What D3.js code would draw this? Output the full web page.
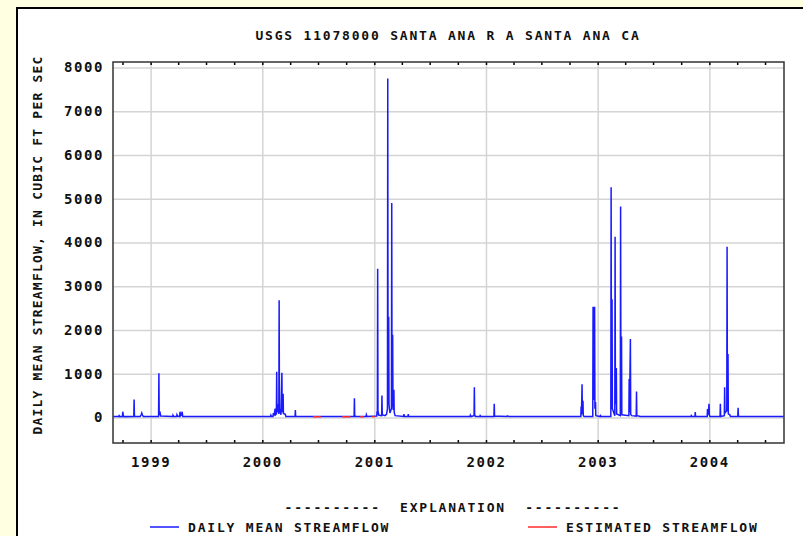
<!DOCTYPE html>
<html>
<head>
<meta charset="utf-8">
<script src="https://cdn.jsdelivr.net/npm/d3@7"></script>
<style>
  html, body { margin: 0; padding: 0; background: #ffffe1; }
  svg { display: block; }
  text { font-family: "DejaVu Sans Mono", monospace; fill: #111; }
</style>
</head>
<body>
<svg class="chart"></svg>
<script>
const TITLE = "USGS 11078000 SANTA ANA R A SANTA ANA CA";
const Y_LABEL = "DAILY MEAN STREAMFLOW, IN CUBIC FT PER SEC";
const Y_TICKS = [0, 1000, 2000, 3000, 4000, 5000, 6000, 7000, 8000];
const YEAR_LABELS = ["1999", "2000", "2001", "2002", "2003", "2004"];
const LEGEND_HEAD = "----------  EXPLANATION  ----------";
const LEGEND_ITEMS = ["DAILY MEAN STREAMFLOW", "ESTIMATED STREAMFLOW"];

// daily mean streamflow, cfs
const DAILY_FLOW = [
  ["1998-09-01", 20], ["1998-09-18", 20], ["1998-09-20", 40], ["1998-09-22", 18],
  ["1998-10-01", 20], ["1998-10-02", 130], ["1998-10-04", 30], ["1998-10-06", 18],
  ["1998-11-07", 20], ["1998-11-08", 410], ["1998-11-09", 40], ["1998-11-11", 20],
  ["1998-11-28", 20], ["1998-12-01", 60], ["1998-12-03", 100], ["1998-12-05", 60], ["1998-12-08", 20],
  ["1999-01-27", 20], ["1999-01-28", 1010], ["1999-01-29", 60], ["1999-02-01", 100], ["1999-02-03", 30],
  ["1999-03-14", 20], ["1999-03-15", 50], ["1999-03-17", 20],
  ["1999-03-27", 20], ["1999-03-28", 60], ["1999-03-30", 30],
  ["1999-04-06", 20], ["1999-04-07", 130], ["1999-04-09", 40], ["1999-04-12", 60], ["1999-04-14", 130], ["1999-04-16", 20],
  ["2000-01-28", 20], ["2000-01-29", 50], ["2000-01-31", 20],
  ["2000-02-05", 20], ["2000-02-06", 100], ["2000-02-08", 40], ["2000-02-12", 200], ["2000-02-13", 60],
  ["2000-02-16", 80], ["2000-02-17", 1045], ["2000-02-18", 120], ["2000-02-21", 300], ["2000-02-22", 150],
  ["2000-02-24", 80], ["2000-02-25", 2680], ["2000-02-26", 200], ["2000-03-02", 60],
  ["2000-03-05", 1020], ["2000-03-06", 150], ["2000-03-08", 120], ["2000-03-09", 540], ["2000-03-10", 90],
  ["2000-03-16", 70], ["2000-03-18", 20],
  ["2000-04-17", 20], ["2000-04-18", 170], ["2000-04-19", 20],
  ["2000-10-27", 20], ["2000-10-28", 440], ["2000-10-29", 40], ["2000-11-01", 20],
  ["2000-12-05", 20], ["2000-12-06", 60], ["2000-12-08", 20],
  ["2001-01-09", 30], ["2001-01-10", 140], ["2001-01-11", 60], ["2001-01-12", 3400], ["2001-01-13", 150], ["2001-01-16", 50],
  ["2001-01-25", 40], ["2001-01-26", 500], ["2001-01-27", 60],
  ["2001-02-05", 40], ["2001-02-10", 70], ["2001-02-13", 200], ["2001-02-14", 7750], ["2001-02-15", 400],
  ["2001-02-17", 2300], ["2001-02-18", 300], ["2001-02-21", 100],
  ["2001-02-26", 200], ["2001-02-27", 4900], ["2001-02-28", 300],
  ["2001-03-02", 1890], ["2001-03-03", 250], ["2001-03-04", 170], ["2001-03-06", 630], ["2001-03-07", 120], ["2001-03-10", 40],
  ["2001-04-07", 20], ["2001-04-08", 75], ["2001-04-09", 20],
  ["2001-04-21", 20], ["2001-04-22", 75], ["2001-04-23", 20],
  ["2001-11-10", 20], ["2001-11-11", 50], ["2001-11-13", 20],
  ["2001-11-23", 40], ["2001-11-24", 690], ["2001-11-25", 60], ["2001-11-28", 20],
  ["2001-12-12", 20], ["2001-12-13", 40], ["2001-12-15", 20],
  ["2002-01-27", 20], ["2002-01-28", 310], ["2002-01-29", 30],
  ["2002-03-10", 20], ["2002-03-11", 30], ["2002-03-14", 30], ["2002-03-16", 20],
  ["2002-11-07", 20], ["2002-11-08", 250], ["2002-11-09", 60], ["2002-11-11", 760], ["2002-11-12", 80],
  ["2002-11-14", 380], ["2002-11-15", 40], ["2002-11-18", 20],
  ["2002-12-16", 20], ["2002-12-17", 2530], ["2002-12-18", 400], ["2002-12-19", 2500], ["2002-12-20", 600],
  ["2002-12-22", 2530], ["2002-12-23", 200], ["2002-12-25", 350], ["2002-12-26", 40],
  ["2003-01-09", 20], ["2003-01-10", 40], ["2003-01-12", 20],
  ["2003-02-13", 20], ["2003-02-14", 5260], ["2003-02-15", 300], ["2003-02-17", 2700], ["2003-02-18", 200],
  ["2003-02-26", 40], ["2003-02-27", 4130], ["2003-02-28", 300], ["2003-03-03", 1130], ["2003-03-04", 80],
  ["2003-03-16", 40], ["2003-03-17", 4820], ["2003-03-18", 300], ["2003-03-20", 1850], ["2003-03-21", 60],
  ["2003-04-13", 40], ["2003-04-14", 880], ["2003-04-15", 120], ["2003-04-18", 1790], ["2003-04-19", 70], ["2003-04-22", 40],
  ["2003-05-07", 30], ["2003-05-08", 590], ["2003-05-09", 40], ["2003-05-15", 30], ["2003-05-20", 20],
  ["2003-11-02", 20], ["2003-11-03", 40], ["2003-11-05", 20],
  ["2003-11-15", 20], ["2003-11-16", 120], ["2003-11-17", 20],
  ["2003-12-25", 20], ["2003-12-26", 190], ["2003-12-28", 60], ["2003-12-31", 310], ["2004-01-01", 50], ["2004-01-03", 20],
  ["2004-02-05", 20], ["2004-02-06", 310], ["2004-02-07", 20],
  ["2004-02-19", 40], ["2004-02-20", 690], ["2004-02-21", 100], ["2004-02-27", 150], ["2004-02-28", 3900], ["2004-02-29", 300],
  ["2004-03-02", 1450], ["2004-03-03", 80], ["2004-03-08", 60], ["2004-03-10", 20],
  ["2004-04-03", 20], ["2004-04-04", 220], ["2004-04-05", 20],
  ["2004-08-31", 20]
];

// estimated periods: start, end, cfs
const EST_FLOW = [
  ["2000-06-15", "2000-07-10", 15],
  ["2000-09-18", "2000-10-15", 15],
  ["2000-11-16", "2000-11-27", 15],
  ["2000-12-24", "2001-01-02", 15]
];

const parseDay = d3.timeParse("%Y-%m-%d");

const WIDTH = 803, HEIGHT = 536;
const PLOT = { left: 113, right: 784, top: 62, bottom: 443 };

const svg = d3.select(".chart").attr("width", WIDTH).attr("height", HEIGHT);

// white panel
svg.append("rect").attr("x", 17).attr("y", 8).attr("width", 800).attr("height", 540)
  .attr("fill", "#fff").attr("stroke", "#000").attr("stroke-width", 2);

const X_fxn = d3.scaleUtc()
  .domain([Date.UTC(1998, 7, 31), Date.UTC(2004, 8, 1)])
  .range([PLOT.left, PLOT.right]);
const Y_fxn = d3.scaleLinear().domain([-585, 8125]).range([PLOT.bottom, PLOT.top]);

const toUtc = s => { const d = parseDay(s); return new Date(Date.UTC(d.getFullYear(), d.getMonth(), d.getDate())); };

// grid
svg.append("g").attr("class", "grid-y")
  .attr("transform", `translate(${PLOT.left},0)`)
  .call(d3.axisLeft(Y_fxn).tickValues(Y_TICKS).tickSize(-(PLOT.right - PLOT.left)).tickFormat(""))
  .call(g => g.select(".domain").remove())
  .call(g => g.selectAll("line").attr("stroke", "#d4d4d4").attr("stroke-width", 1.5));

const yearDates = YEAR_LABELS.map(y => new Date(Date.UTC(+y, 0, 1)));
svg.append("g").attr("class", "grid-x")
  .attr("transform", `translate(0,${PLOT.bottom})`)
  .call(d3.axisBottom(X_fxn).tickValues(yearDates).tickSize(-(PLOT.bottom - PLOT.top)).tickFormat(""))
  .call(g => g.select(".domain").remove())
  .call(g => g.selectAll("line").attr("stroke", "#d4d4d4").attr("stroke-width", 1.5));

// quarter ticks, inside, top and bottom
const quarters = d3.utcMonth.every(3).range(X_fxn.domain()[0], X_fxn.domain()[1]);
svg.append("g").attr("transform", `translate(0,${PLOT.bottom})`)
  .call(d3.axisBottom(X_fxn).tickValues(quarters).tickSize(-3).tickFormat(""))
  .call(g => g.select(".domain").remove())
  .call(g => g.selectAll("line").attr("stroke", "#000").attr("stroke-width", 1.5));
svg.append("g").attr("transform", `translate(0,${PLOT.top})`)
  .call(d3.axisTop(X_fxn).tickValues(quarters).tickSize(-3).tickFormat(""))
  .call(g => g.select(".domain").remove())
  .call(g => g.selectAll("line").attr("stroke", "#000").attr("stroke-width", 1.5));

// data
const flowLine = d3.line()
  .x(d => X_fxn(toUtc(d[0])))
  .y(d => Y_fxn(d[1]));

svg.append("path").datum(DAILY_FLOW)
  .attr("d", flowLine)
  .attr("fill", "none").attr("stroke", "#1a1aff").attr("stroke-width", 1.5);

EST_FLOW.forEach(e => {
  svg.append("path").datum([[e[0], e[2]], [e[1], e[2]]])
    .attr("d", flowLine)
    .attr("fill", "none").attr("stroke", "#ff2a2a").attr("stroke-width", 1.5);
});

// plot frame
svg.append("rect")
  .attr("x", PLOT.left).attr("y", PLOT.top)
  .attr("width", PLOT.right - PLOT.left).attr("height", PLOT.bottom - PLOT.top)
  .attr("fill", "none").attr("stroke", "#333").attr("stroke-width", 1.5);

// y tick labels
svg.append("g").attr("class", "y-axis")
  .attr("transform", `translate(${PLOT.left},0)`)
  .call(d3.axisLeft(Y_fxn).tickValues(Y_TICKS).tickSize(0).tickPadding(9).tickFormat(d3.format("d")))
  .call(g => g.select(".domain").remove())
  .call(g => g.selectAll("text")
    .style("font-family", "DejaVu Sans Mono").style("font-size", "14px")
    .style("font-weight", "bold").style("letter-spacing", "1.6px").attr("fill", "#111"));

// x year labels
svg.append("g").attr("class", "x-axis")
  .attr("transform", `translate(0,${PLOT.bottom})`)
  .call(d3.axisBottom(X_fxn).tickValues(yearDates).tickSize(0).tickPadding(14)
    .tickFormat((d, i) => YEAR_LABELS[i]))
  .call(g => g.select(".domain").remove())
  .call(g => g.selectAll("text")
    .style("font-family", "DejaVu Sans Mono").style("font-size", "14px")
    .style("font-weight", "bold").style("letter-spacing", "1.6px").attr("fill", "#111"));

// title
svg.append("text")
  .attr("x", 448).attr("y", 40)
  .attr("text-anchor", "middle")
  .style("font-size", "13px").style("font-weight", "bold").style("letter-spacing", "1.8px")
  .text(TITLE);

// y label
svg.append("text")
  .attr("transform", "translate(42,245) rotate(-90)")
  .attr("text-anchor", "middle")
  .style("font-size", "13px").style("font-weight", "bold").style("letter-spacing", "1.2px")
  .text(Y_LABEL);

// legend
svg.append("text")
  .attr("x", 453).attr("y", 512)
  .attr("text-anchor", "middle")
  .style("font-size", "13px").style("font-weight", "bold").style("letter-spacing", "1.8px")
  .style("white-space", "pre")
  .text(LEGEND_HEAD);

const legendColors = ["#1a1aff", "#ff2a2a"];
const legendX = [150, 528];
LEGEND_ITEMS.forEach((t, i) => {
  svg.append("line")
    .attr("x1", legendX[i]).attr("x2", legendX[i] + 29)
    .attr("y1", 527).attr("y2", 527)
    .attr("stroke", legendColors[i]).attr("stroke-width", 1.5);
  svg.append("text")
    .attr("x", legendX[i] + 38).attr("y", 532)
    .style("font-size", "13px").style("font-weight", "bold").style("letter-spacing", "1.8px")
    .text(t);
});
</script>
</body>
</html>
